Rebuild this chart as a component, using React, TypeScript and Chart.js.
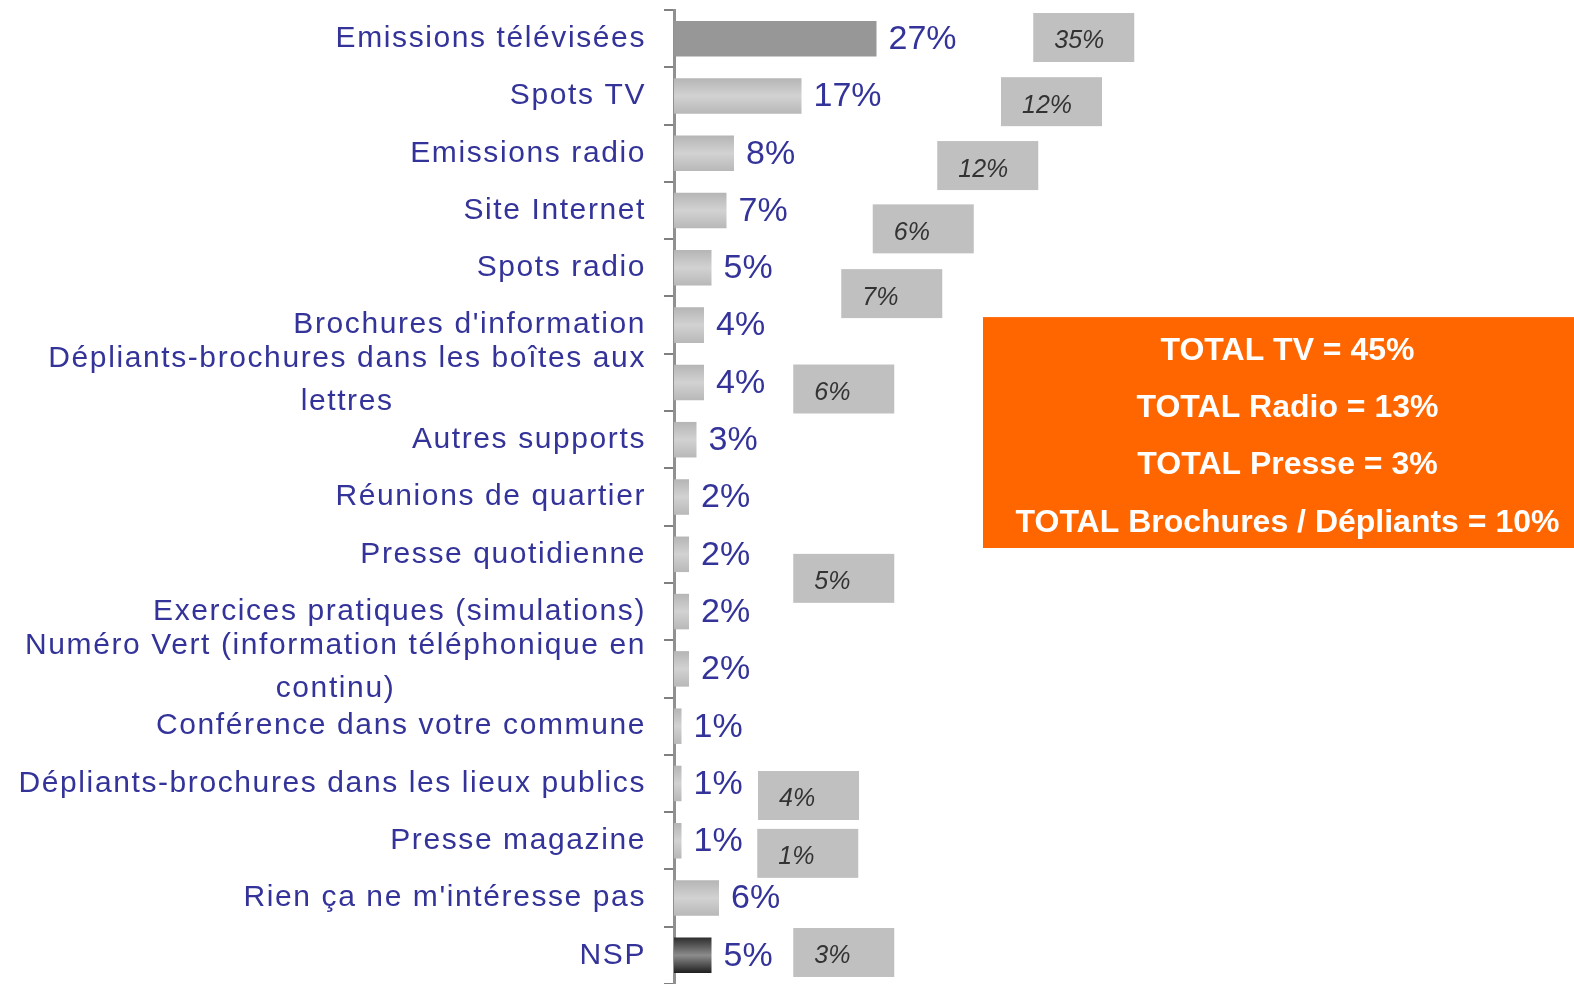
import React, { useEffect, useRef } from 'react';
import { Chart, registerables } from 'chart.js';

Chart.register(...registerables);

// ---------- DATA ----------
const categories: (string | string[])[] = [
  'Emissions télévisées',
  'Spots TV',
  'Emissions radio',
  'Site Internet',
  'Spots radio',
  "Brochures d'information",
  ['Dépliants-brochures dans les boîtes aux', 'lettres'],
  'Autres supports',
  'Réunions de quartier',
  'Presse quotidienne',
  'Exercices pratiques (simulations)',
  ['Numéro Vert (information téléphonique en', 'continu)'],
  'Conférence dans votre commune',
  'Dépliants-brochures dans les lieux publics',
  'Presse magazine',
  "Rien ça ne m'intéresse pas",
  'NSP',
];

const values: number[] = [27, 17, 8, 7, 5, 4, 4, 3, 2, 2, 2, 2, 1, 1, 1, 6, 5];

// previous-wave figures shown in the grey boxes (null = no box)
const previousValues: (number | null)[] = [35, 12, 12, 6, 7, null, 6, null, null, 5, null, null, null, 4, 1, null, 3];

const totalsLines: string[] = [
  'TOTAL TV = 45%',
  'TOTAL Radio = 13%',
  'TOTAL Presse = 3%',
  'TOTAL Brochures / Dépliants = 10%',
];

// ---------- LAYOUT / STYLE (kept apart from data) ----------
const FONT = '"Liberation Sans", Arial, Helvetica, sans-serif';
const TEXT_BLUE = '#333399';
const BAR_FRACTION = 0.62;
const X_MAX = 120;

// bar shading style per category
const barShade: string[] = ['solid', 'light', 'light', 'light', 'light', 'light', 'light', 'light', 'light', 'light', 'light', 'light', 'light', 'light', 'light', 'light', 'dark'];

// grey box left edge (x-axis units) and vertical shift (category units)
const prevBoxLeft: (number | null)[] = [47.9, 43.6, 35.1, 26.5, 22.3, null, 15.9, null, null, 15.9, null, null, null, 11.2, 11.1, null, 15.9];
const prevBoxShift: number[] = [-0.02, 0.1, 0.215, 0.32, 0.45, 0, 0.115, 0, 0, 0.42, 0, 0, 0, 0.21, 0.22, 0, -0.05];
const PREV_BOX_W = 13.47; // x units
const PREV_BOX_H = 0.855; // category units

// orange totals box (x units / category units)
const totalsBox = { x0: 41.2, x1: X_MAX, y0: 4.86, y1: 8.89, textX: 81.8, textY0: 5.45, step: 1.0 };

const categoryLabelsPlugin = {
  id: 'categoryLabels',
  afterDraw(chart: any) {
    const ctx = chart.ctx as CanvasRenderingContext2D;
    const y = chart.scales.y;
    const rightX = chart.chartArea.left - 28;
    ctx.save();
    ctx.font = `30px ${FONT}`;
    (ctx as any).letterSpacing = '1.6px';
    ctx.fillStyle = TEXT_BLUE;
    ctx.textBaseline = 'middle';
    categories.forEach((cat, i) => {
      const lines = Array.isArray(cat) ? cat : [cat];
      const c = y.getPixelForValue(i) - (lines.length > 1 ? 2 : 0);
      const lh = 43;
      const widths = lines.map((l) => ctx.measureText(l).width);
      const maxW = Math.max(...widths);
      const center = rightX - maxW / 2;
      lines.forEach((l, k) => {
        const ly = c + (k - (lines.length - 1) / 2) * lh;
        ctx.textAlign = lines.length > 1 ? 'center' : 'right';
        ctx.fillText(l, lines.length > 1 ? center : rightX, ly);
      });
    });
    ctx.restore();
  },
};

const valueLabelsPlugin = {
  id: 'valueLabels',
  afterDatasetsDraw(chart: any) {
    const ctx = chart.ctx as CanvasRenderingContext2D;
    const meta = chart.getDatasetMeta(0);
    ctx.save();
    ctx.font = `34px ${FONT}`;
    ctx.fillStyle = TEXT_BLUE;
    ctx.textAlign = 'left';
    ctx.textBaseline = 'middle';
    meta.data.forEach((bar: any, i: number) => {
      ctx.fillText(`${values[i]}%`, bar.x + 12, bar.y + 1);
    });
    ctx.restore();
  },
};

const boxesPlugin = {
  id: 'boxes',
  afterDatasetsDraw(chart: any) {
    const ctx = chart.ctx as CanvasRenderingContext2D;
    const xs = chart.scales.x;
    const ys = chart.scales.y;
    ctx.save();
    // grey previous-wave boxes
    previousValues.forEach((v, i) => {
      const left = prevBoxLeft[i];
      if (v === null || left === null) return;
      const x0 = xs.getPixelForValue(left);
      const x1 = xs.getPixelForValue(left + PREV_BOX_W);
      const yc = i + prevBoxShift[i];
      const y0 = ys.getPixelForValue(yc - PREV_BOX_H / 2);
      const y1 = ys.getPixelForValue(yc + PREV_BOX_H / 2);
      ctx.fillStyle = '#c0c0c0';
      ctx.fillRect(x0, y0, x1 - x0, y1 - y0);
      ctx.fillStyle = '#333333';
      ctx.font = `italic 25px ${FONT}`;
      ctx.textAlign = 'left';
      ctx.textBaseline = 'middle';
      ctx.fillText(`${v}%`, x0 + 21, (y0 + y1) / 2 + 4);
    });
    // orange totals box
    const bx0 = xs.getPixelForValue(totalsBox.x0);
    const bx1 = xs.getPixelForValue(totalsBox.x1);
    const by0 = ys.getPixelForValue(totalsBox.y0);
    const by1 = ys.getPixelForValue(totalsBox.y1);
    ctx.fillStyle = '#ff6600';
    ctx.fillRect(bx0, by0, bx1 - bx0, by1 - by0);
    ctx.fillStyle = '#ffffff';
    ctx.font = `bold 32px ${FONT}`;
    ctx.textAlign = 'center';
    ctx.textBaseline = 'middle';
    const tx = xs.getPixelForValue(totalsBox.textX);
    totalsLines.forEach((t, k) => {
      ctx.fillText(t, tx, ys.getPixelForValue(totalsBox.textY0 + k * totalsBox.step));
    });
    ctx.restore();
  },
};

function barFill(context: any) {
  const chart = context.chart;
  const i = context.dataIndex;
  const shade = barShade[i] || 'light';
  if (shade === 'solid') return '#979797';
  const y = chart.scales && chart.scales.y;
  if (!y || !chart.chartArea) return shade === 'dark' ? '#777777' : '#c8c8c8';
  const slot = (y.bottom - y.top) / categories.length;
  const c = y.getPixelForValue(i);
  const h = (slot * BAR_FRACTION) / 2;
  const g = chart.ctx.createLinearGradient(0, c - h, 0, c + h);
  if (shade === 'dark') {
    g.addColorStop(0, '#2e2e2e');
    g.addColorStop(0.5, '#8c8c8c');
    g.addColorStop(1, '#1e1e1e');
  } else {
    g.addColorStop(0, '#b5b5b5');
    g.addColorStop(0.5, '#d2d2d2');
    g.addColorStop(1, '#b8b8b8');
  }
  return g;
}

export default function App() {
  const canvasRef = useRef<HTMLCanvasElement | null>(null);

  useEffect(() => {
    if (!canvasRef.current) return;
    const chart = new Chart(canvasRef.current, {
      type: 'bar',
      data: {
        labels: categories as any,
        datasets: [
          {
            data: values,
            backgroundColor: barFill as any,
            borderWidth: 0,
            barPercentage: BAR_FRACTION,
            categoryPercentage: 1,
          },
        ],
      },
      options: {
        indexAxis: 'y',
        responsive: false,
        animation: false,
        events: [],
        layout: { padding: { top: 10, bottom: 0, left: 0, right: 0 } },
        plugins: {
          legend: { display: false },
          tooltip: { enabled: false },
          title: { display: false },
        },
        scales: {
          x: {
            type: 'linear',
            display: false,
            min: 0,
            max: X_MAX,
          },
          y: {
            type: 'category',
            position: 'left',
            z: 1,
            offset: true,
            ticks: { display: false },
            grid: {
              offset: true,
              drawOnChartArea: false,
              drawTicks: true,
              tickLength: 10,
              color: '#808080',
              lineWidth: 2,
            },
            border: { display: true, color: '#909090', width: 3 },
            afterFit: (scale: any) => {
              scale.width = 674;
            },
          },
        },
      },
      plugins: [valueLabelsPlugin, boxesPlugin, categoryLabelsPlugin],
    });
    return () => chart.destroy();
  }, []);

  return (
    <div style={{ position: 'fixed', left: 0, top: 0, width: 1574, height: 984, background: '#ffffff', overflow: 'hidden' }}>
      <canvas ref={canvasRef} width={1574} height={984} style={{ display: 'block' }} />
    </div>
  );
}
